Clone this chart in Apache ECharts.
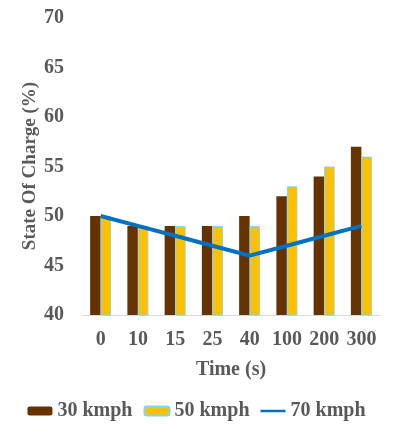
<!DOCTYPE html>
<html><head><meta charset="utf-8">
<script src="https://cdn.jsdelivr.net/npm/echarts@6/dist/echarts.min.js"></script>
<style>html,body{margin:0;padding:0;background:#fff}#c{width:393px;height:432px}</style>
</head><body><div id="c"></div>
<script>
const categories = ['0','10','15','25','40','100','200','300'];
const kmph30 = [50,49,49,49,50,52,54,57];
const kmph50 = [50,49,49,49,49,53,55,56];
const kmph70 = [50,49,48,47,46,47,48,49];
const F = '"Liberation Serif","Times New Roman",serif';
const chart = echarts.init(document.getElementById('c'));
chart.setOption({
  animation:false,
  grid:{left:82,right:13,top:18,bottom:117},
  xAxis:{type:'category',data:categories,
    axisLine:{lineStyle:{color:'#D9D9D9',width:1}},axisTick:{show:false},
    axisLabel:{interval:0,hideOverlap:false,color:'#595959',fontFamily:F,fontWeight:'bold',fontSize:20,margin:15},
    name:'Time (s)',nameLocation:'middle',nameGap:45,
    nameTextStyle:{color:'#595959',fontFamily:F,fontWeight:'bold',fontSize:20}},
  yAxis:{type:'value',min:40,max:70,interval:5,
    splitLine:{show:false},axisLine:{show:false},axisTick:{show:false},
    axisLabel:{color:'#595959',fontFamily:F,fontWeight:'bold',fontSize:20,margin:18}},
  graphic:[{type:'text',x:30,y:166,rotation:Math.PI/2,
    style:{text:'State Of Charge (%)',fill:'#595959',font:'bold 19px '+F,align:'center',verticalAlign:'middle'}}],
  legend:{top:396,left:'center',itemWidth:25,itemHeight:9,itemGap:11,
    textStyle:{color:'#595959',fontFamily:F,fontWeight:'bold',fontSize:20},
    data:['30 kmph','50 kmph',{name:'70 kmph',icon:'path://M0,0 L10,0 L10,1 L0,1 Z'}]},
  series:[
    {name:'30 kmph',type:'bar',data:kmph30,barWidth:10.5,barGap:'0%',itemStyle:{color:'#663300'}},
    {name:'50 kmph',type:'bar',data:kmph50,barWidth:10.5,itemStyle:{color:'#FFC000',borderColor:'#7FD8E8',borderWidth:1}},
    {name:'70 kmph',type:'line',data:kmph70,symbol:'none',lineStyle:{color:'#0070C0',width:4},itemStyle:{color:'#0070C0'}}
  ]
});
</script></body></html>
